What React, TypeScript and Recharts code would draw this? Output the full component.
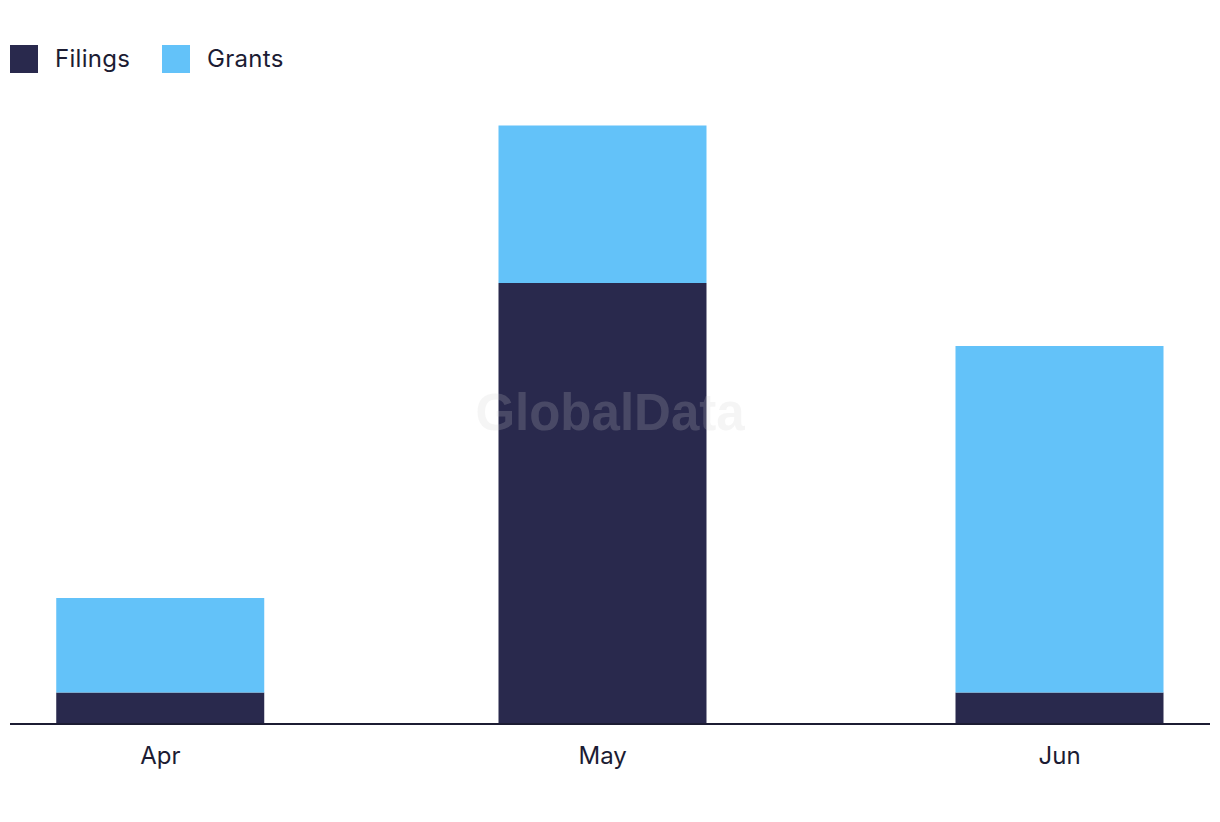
import * as React from "react"
import { BarChart, Bar, XAxis, YAxis } from "recharts"

const months = ["Apr", "May", "Jun"]
const monthDates = ["2023-04-01", "2023-05-01", "2023-06-01"]
const filings = [1, 14, 1]
const grants = [3, 5, 11]

const NAVY = "#29294d"
const SKY = "#63c2f9"
const INK = "#1c1c33"
const FONT = "Inter, 'Noto Sans', sans-serif"

const DAY = 86400000
const toDay = (d: string) => Date.parse(d + "T00:00:00Z") / DAY

const data = months.map((m, i) => ({
  month: m,
  day: toDay(monthDates[i]),
  filings: filings[i],
  grants: grants[i],
}))

const dayTicks = data.map((d) => d.day)
const pad = 10.2

export default function App() {
  return (
    <div style={{ position: "relative", width: 1204, height: 806, fontFamily: FONT }}>
      {/* legend */}
      <div style={{ position: "absolute", left: 2, top: 36, display: "flex", alignItems: "center", color: INK, fontSize: 24 }}>
        <span style={{ width: 28, height: 28, background: NAVY, display: "inline-block" }} />
        <span style={{ marginLeft: 17, width: 107, letterSpacing: 0.3 }}>Filings</span>
        <span style={{ width: 28, height: 28, background: SKY, display: "inline-block" }} />
        <span style={{ marginLeft: 17, letterSpacing: 0.3 }}>Grants</span>
      </div>

      <BarChart
        width={1204}
        height={806}
        data={data}
        margin={{ top: 86, right: 2, left: 2, bottom: 50 }}
      >
        <XAxis
          dataKey="day"
          type="number"
          domain={[dayTicks[0] - pad, dayTicks[dayTicks.length - 1] + pad]}
          ticks={dayTicks}
          tickFormatter={(v: number) => months[dayTicks.indexOf(v)] ?? ""}
          tick={{ fontSize: 24, fill: INK, fontFamily: FONT }}
          axisLine={{ stroke: INK, strokeWidth: 2 }}
          tickLine={false}
          tickMargin={17}
          height={40}
          allowDataOverflow
        />
        <YAxis hide domain={[0, 20]} />
        <Bar dataKey="filings" stackId="a" fill={NAVY} barSize={208} isAnimationActive={false} />
        <Bar dataKey="grants" stackId="a" fill={SKY} barSize={208} isAnimationActive={false} />
      </BarChart>

      {/* watermark */}
      <svg width={1204} height={806} style={{ position: "absolute", left: 0, top: 0, pointerEvents: "none" }}>
        <text
          x={602}
          y={422}
          textAnchor="middle"
          fontFamily="'Liberation Sans', Arial, sans-serif"
          fontWeight={700}
          fontSize={51}
          fill="#cccccc"
          fillOpacity={0.2}
        >
          GlobalData
        </text>
      </svg>
    </div>
  )
}
